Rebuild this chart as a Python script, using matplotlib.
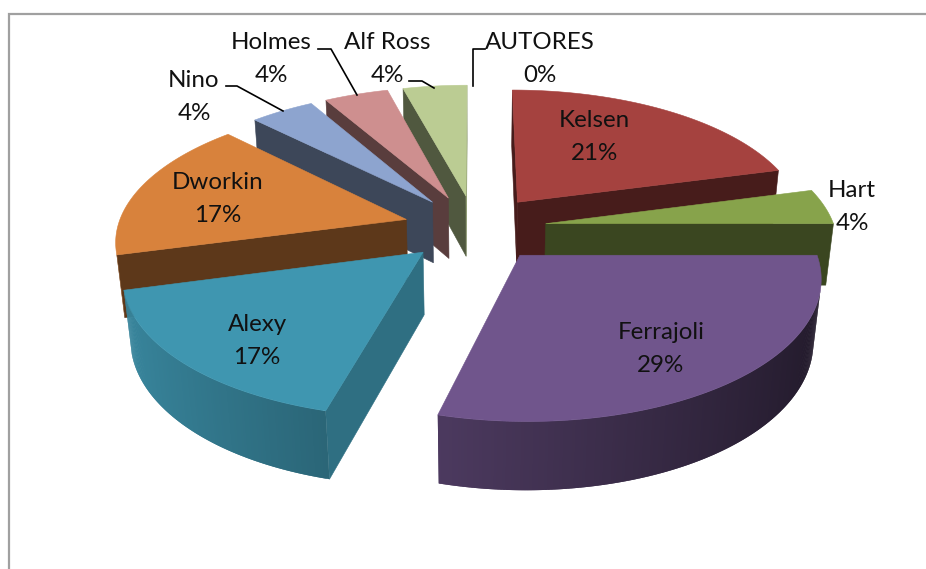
from __future__ import annotations

import matplotlib

matplotlib.use("Agg")
import matplotlib.pyplot as plt
import numpy as np
from matplotlib.colors import to_rgb
from matplotlib.patches import Polygon

AUTHORS = ["Kelsen", "Hart", "Ferrajoli", "Alexy", "Dworkin", "Nino", "Holmes", "Alf Ross", "AUTORES"]
COUNTS = [5, 1, 7, 4, 4, 1, 1, 1, 0]
COLORS = ["#a5423f", "#87a34b", "#70558c", "#3f96b0", "#d8823c", "#8da4cf", "#ce8f8f", "#bbcc93", "#ffffff"]

LABEL_POS = {
    "Kelsen": (594, 120),
    "Hart": (852, 190),
    "Ferrajoli": (661, 332),
    "Alexy": (257, 324),
    "Dworkin": (218, 182),
    "Nino": (194, 80),
    "Holmes": (271, 42),
    "Alf Ross": (387, 42),
    "AUTORES": (540, 42),
}
LEADERS = [
    [(226, 86), (237, 86), (283, 111)],
    [(318, 49), (331, 49), (357, 95)],
    [(409, 81), (422, 81), (434, 88)],
    [(485, 49), (473, 49), (473, 86)],
]

# projection of the tilted pie, in pixels
CX, CY = 475, 228
RX, RY = 289, 134.6
DEPTH = 63
PERSP = 0.14
PERSP_Z = 0.022
EXPLODE = 0.248


def project(u, v, z=0.0):
    w = 1 + PERSP * v + PERSP_Z * z
    return CX + RX * u / w, CY - (RY * v - DEPTH * z) / w


def shade(color, factor):
    return tuple(min(c * factor, 1) for c in to_rgb(color))


def add_face(ax, points, color, linewidth=0.4):
    ax.add_patch(Polygon(points, closed=True, facecolor=color, edgecolor=color, linewidth=linewidth))


def faces_viewer(points):
    xs, ys = zip(*points)
    return np.dot(xs, np.roll(ys, 1)) - np.dot(ys, np.roll(xs, 1)) > 0


def draw_slice(ax, start, end, color):
    mid = (start + end) / 2
    tip_u, tip_v = EXPLODE * np.sin(mid), EXPLODE * np.cos(mid)
    angles = np.linspace(start, end, int(np.degrees(end - start)) * 2 + 2)
    us = tip_u + np.sin(angles)
    vs = tip_v + np.cos(angles)
    tip_top, tip_low = project(tip_u, tip_v), project(tip_u, tip_v, 1)

    start_face = [tip_top, project(us[0], vs[0]), project(us[0], vs[0], 1), tip_low]
    end_face = [project(us[-1], vs[-1]), tip_top, tip_low, project(us[-1], vs[-1], 1)]
    for quad, normal in ((start_face, start - np.pi / 2), (end_face, end + np.pi / 2)):
        if faces_viewer(quad):
            add_face(ax, quad, shade(color, 0.74 if np.sin(normal) > 0.8 else 0.43))

    # outer wall, lit from the left; each strip overlaps the next to hide seams
    last = len(angles) - 1
    for j in range(last):
        a = (angles[j] + angles[j + 1]) / 2
        k = min(j + 2, last)
        quad = [
            project(us[j], vs[j]),
            project(us[k], vs[k]),
            project(us[k], vs[k], 1),
            project(us[j], vs[j], 1),
        ]
        if faces_viewer(quad):
            add_face(ax, quad, shade(color, 0.6 - 0.3 * np.sin(a)), linewidth=0)

    top = [tip_top] + [project(x, y) for x, y in zip(us, vs)]
    add_face(ax, top, color)


def main() -> None:
    plt.rcParams["font.family"] = ["Lato", "DejaVu Sans"]
    fig = plt.figure(figsize=(9.26, 5.69), dpi=100)
    ax = fig.add_axes([0, 0, 1, 1])
    ax.set_xlim(0, 926)
    ax.set_ylim(569, 0)
    ax.set_axis_off()

    # chart area border, only top and left fall inside the crop
    ax.plot([8.5, 8.5, 926], [569, 13.5, 13.5], color="#a0a0a0", linewidth=1.6, solid_joinstyle="miter")

    total = sum(COUNTS)
    edges = np.cumsum([0] + COUNTS) / total * 2 * np.pi
    slices = []
    for i, count in enumerate(COUNTS):
        if count > 0:
            slices.append((edges[i], edges[i + 1], COLORS[i]))
    slices.sort(key=lambda s: -np.cos((s[0] + s[1]) / 2))
    for start, end, color in slices:
        draw_slice(ax, start, end, color)

    for name, count in zip(AUTHORS, COUNTS):
        x, y = LABEL_POS[name]
        ax.text(x, y, name, ha="center", va="center", fontsize=17.4, color="#111111")
        ax.text(x, y + 33, f"{round(100 * count / total)}%", ha="center", va="center", fontsize=17.4, color="#111111")

    for line in LEADERS:
        xs, ys = zip(*line)
        ax.plot(xs, ys, color="black", linewidth=1.2)

    fig.savefig("out.png", dpi=100)
    plt.close(fig)


if __name__ == "__main__":
    main()
